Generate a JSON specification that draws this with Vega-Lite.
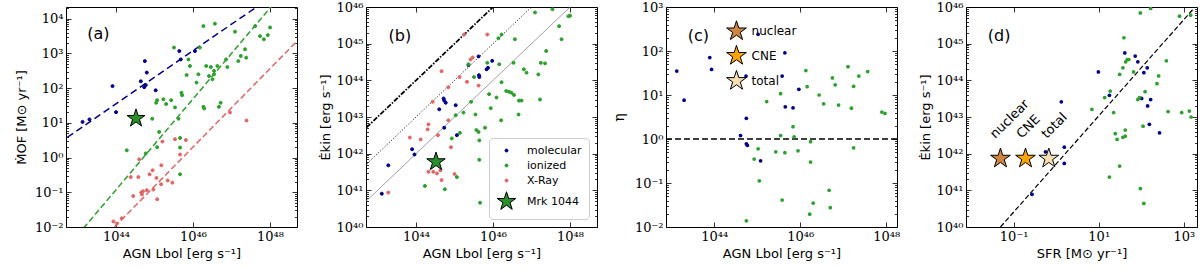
{
"$schema": "https://vega.github.io/schema/vega-lite/v6.json",
"padding": {"left": 14, "top": 0, "right": 0, "bottom": 0},
"background": "white",
"config": {
  "view": {"stroke": "black", "strokeWidth": 1},
  "axis": {"domain": false, "grid": false, "tickColor": "black", "tickWidth": 0.8, "labelColor": "black", "titleColor": "black", "labelFont": "DejaVu Serif", "labelFontSize": 13, "titleFont": "DejaVu Sans", "titleFontSize": 13, "titleFontWeight": "normal", "labelFlush": false, "labelOverlap": false},
  "text": {"font": "DejaVu Sans"}
},
"bounds": "flush",
"spacing": 69,
"resolve": {"scale": {"color": "independent", "fill": "independent", "stroke": "independent", "shape": "independent", "size": "independent"}},
"datasets": {
  "aL1": [{"x": 3.16e42, "y": 2.55}, {"x": 1e48, "y": 40550}],
  "aL2": [{"x": 1e43, "y": 0.0058}, {"x": 2e48, "y": 50900}],
  "aL3": [{"x": 6.3e43, "y": 0.0066}, {"x": 7.9e48, "y": 3800}],
  "aPts": [
    {"x": 1.35e43, "y": 10.7, "cat": "molecular"}, {"x": 2.04e43, "y": 12.6, "cat": "molecular"}, {"x": 8.1e43, "y": 115, "cat": "molecular"}, {"x": 1.0e44, "y": 20.4, "cat": "molecular"}, {"x": 4.4e44, "y": 158, "cat": "molecular"}, {"x": 5.6e44, "y": 603, "cat": "molecular"}, {"x": 6.3e44, "y": 282, "cat": "molecular"}, {"x": 5.4e44, "y": 107, "cat": "molecular"}, {"x": 5.9e44, "y": 123, "cat": "molecular"}, {"x": 1.07e45, "y": 87, "cat": "molecular"}, {"x": 4.4e45, "y": 1175, "cat": "molecular"}, {"x": 4.8e45, "y": 676, "cat": "molecular"}, {"x": 1.12e46, "y": 1175, "cat": "molecular"},
    {"x": 1.9e44, "y": 1.62, "cat": "ionized"}, {"x": 5.9e44, "y": 1.32, "cat": "ionized"}, {"x": 8.7e44, "y": 13.2, "cat": "ionized"}, {"x": 1.1e45, "y": 38, "cat": "ionized"}, {"x": 1.17e45, "y": 45, "cat": "ionized"}, {"x": 1.32e45, "y": 5.5, "cat": "ionized"}, {"x": 1.17e45, "y": 2.0, "cat": "ionized"}, {"x": 1.7e45, "y": 48, "cat": "ionized"}, {"x": 2.0e45, "y": 35, "cat": "ionized"}, {"x": 2.7e45, "y": 45, "cat": "ionized"}, {"x": 3.4e45, "y": 28, "cat": "ionized"}, {"x": 3.2e45, "y": 1480, "cat": "ionized"}, {"x": 4.2e45, "y": 13.2, "cat": "ionized"}, {"x": 4.6e45, "y": 3.7, "cat": "ionized"}, {"x": 4.6e45, "y": 1.95, "cat": "ionized"}, {"x": 4.6e45, "y": 0.33, "cat": "ionized"}, {"x": 5.0e45, "y": 74, "cat": "ionized"}, {"x": 5.2e45, "y": 63, "cat": "ionized"}, {"x": 6.8e45, "y": 240, "cat": "ionized"}, {"x": 7.6e45, "y": 676, "cat": "ionized"}, {"x": 8.3e45, "y": 437, "cat": "ionized"}, {"x": 1.23e46, "y": 145, "cat": "ionized"}, {"x": 1.38e46, "y": 251, "cat": "ionized"}, {"x": 1.5e46, "y": 1480, "cat": "ionized"}, {"x": 1.86e46, "y": 6170, "cat": "ionized"}, {"x": 1.86e46, "y": 29, "cat": "ionized"}, {"x": 1.95e46, "y": 26, "cat": "ionized"}, {"x": 2.2e46, "y": 437, "cat": "ionized"}, {"x": 2.6e46, "y": 224, "cat": "ionized"}, {"x": 2.9e46, "y": 407, "cat": "ionized"}, {"x": 3.2e46, "y": 182, "cat": "ionized"}, {"x": 3.5e46, "y": 316, "cat": "ionized"}, {"x": 3.7e46, "y": 7244, "cat": "ionized"}, {"x": 3.5e46, "y": 251, "cat": "ionized"}, {"x": 4.3e46, "y": 437, "cat": "ionized"}, {"x": 4.7e46, "y": 29, "cat": "ionized"}, {"x": 5.2e46, "y": 38, "cat": "ionized"}, {"x": 7.2e46, "y": 676, "cat": "ionized"}, {"x": 7.8e46, "y": 407, "cat": "ionized"}, {"x": 1.23e47, "y": 4266, "cat": "ionized"}, {"x": 1.5e47, "y": 603, "cat": "ionized"}, {"x": 1.74e47, "y": 851, "cat": "ionized"}, {"x": 2.24e47, "y": 1318, "cat": "ionized"}, {"x": 2.4e47, "y": 759, "cat": "ionized"}, {"x": 4.1e47, "y": 6170, "cat": "ionized"}, {"x": 5.5e47, "y": 3162, "cat": "ionized"}, {"x": 6.9e47, "y": 2570, "cat": "ionized"}, {"x": 8.7e47, "y": 3388, "cat": "ionized"}, {"x": 1.0e48, "y": 5623, "cat": "ionized"},
    {"x": 8.5e43, "y": 0.0145, "cat": "X-Ray"}, {"x": 1.05e44, "y": 0.0126, "cat": "X-Ray"}, {"x": 1.4e44, "y": 0.0178, "cat": "X-Ray"}, {"x": 2.4e44, "y": 0.275, "cat": "X-Ray"}, {"x": 2.8e44, "y": 0.078, "cat": "X-Ray"}, {"x": 3.8e44, "y": 0.275, "cat": "X-Ray"}, {"x": 4.0e44, "y": 0.89, "cat": "X-Ray"}, {"x": 4.5e44, "y": 0.098, "cat": "X-Ray"}, {"x": 4.7e44, "y": 0.087, "cat": "X-Ray"}, {"x": 5.0e44, "y": 0.107, "cat": "X-Ray"}, {"x": 6.3e44, "y": 0.115, "cat": "X-Ray"}, {"x": 7.4e44, "y": 0.33, "cat": "X-Ray"}, {"x": 8.9e44, "y": 0.43, "cat": "X-Ray"}, {"x": 9.3e44, "y": 0.12, "cat": "X-Ray"}, {"x": 1.12e45, "y": 0.26, "cat": "X-Ray"}, {"x": 1.17e45, "y": 0.063, "cat": "X-Ray"}, {"x": 1.48e45, "y": 0.17, "cat": "X-Ray"}, {"x": 1.5e45, "y": 0.6, "cat": "X-Ray"}, {"x": 1.6e45, "y": 2.9, "cat": "X-Ray"}, {"x": 2.2e45, "y": 0.22, "cat": "X-Ray"}, {"x": 2.9e45, "y": 0.19, "cat": "X-Ray"}, {"x": 3.4e45, "y": 3.4, "cat": "X-Ray"}, {"x": 4.6e45, "y": 1.23, "cat": "X-Ray"}, {"x": 6.5e45, "y": 3.2, "cat": "X-Ray"}, {"x": 9.1e46, "y": 20, "cat": "X-Ray"}, {"x": 2.45e47, "y": 11.7, "cat": "X-Ray"},
    {"x": 3.3e44, "y": 13.5, "cat": "Mrk 1044"}
  ],
  "aTxt": [{"x": 3.47e43, "y": 3548, "t": "(a)"}],
  "bL1": [{"x": 1e42, "y": 1e42}, {"x": 1e47, "y": 1e47}],
  "bL2": [{"x": 1e42, "y": 1e41}, {"x": 1e48, "y": 1e47}],
  "bL3": [{"x": 1e42, "y": 1e40}, {"x": 1e49, "y": 1e47}],
  "bPts": [
    {"x": 1.29e43, "y": 8.1e40, "cat": "molecular"}, {"x": 1.9e43, "y": 4.8e41, "cat": "molecular"}, {"x": 7.9e43, "y": 1.32e42, "cat": "molecular"}, {"x": 9.1e43, "y": 9.5e41, "cat": "molecular"}, {"x": 4.0e44, "y": 1.62e43, "cat": "molecular"}, {"x": 5.2e44, "y": 3.2e43, "cat": "molecular"}, {"x": 5.4e44, "y": 2.8e43, "cat": "molecular"}, {"x": 5.9e44, "y": 2.45e43, "cat": "molecular"}, {"x": 5.4e44, "y": 5.1e42, "cat": "molecular"}, {"x": 1.07e45, "y": 2.1e43, "cat": "molecular"}, {"x": 1.15e45, "y": 3.2e42, "cat": "molecular"}, {"x": 2.3e45, "y": 2.6e44, "cat": "molecular"}, {"x": 4.2e45, "y": 4.5e44, "cat": "molecular"}, {"x": 4.3e45, "y": 1.38e44, "cat": "molecular"}, {"x": 4.4e45, "y": 1.23e44, "cat": "molecular"}, {"x": 6.8e45, "y": 2.0e44, "cat": "molecular"}, {"x": 7.4e45, "y": 2.2e44, "cat": "molecular"}, {"x": 9.5e45, "y": 3.4e44, "cat": "molecular"},
    {"x": 1.7e44, "y": 1.32e41, "cat": "ionized"}, {"x": 5.6e44, "y": 1.07e41, "cat": "ionized"}, {"x": 8.5e44, "y": 2.6e42, "cat": "ionized"}, {"x": 1.07e45, "y": 1.12e43, "cat": "ionized"}, {"x": 1.15e45, "y": 2.3e41, "cat": "ionized"}, {"x": 1.38e45, "y": 3.7e42, "cat": "ionized"}, {"x": 1.7e45, "y": 1.32e43, "cat": "ionized"}, {"x": 2.3e45, "y": 2.75e44, "cat": "ionized"}, {"x": 2.7e45, "y": 2.6e43, "cat": "ionized"}, {"x": 3.2e45, "y": 1.23e44, "cat": "ionized"}, {"x": 3.5e45, "y": 1.17e43, "cat": "ionized"}, {"x": 3.7e45, "y": 4.4e42, "cat": "ionized"}, {"x": 4.2e45, "y": 3.9e42, "cat": "ionized"}, {"x": 4.4e45, "y": 2.3e42, "cat": "ionized"}, {"x": 4.4e45, "y": 6.8e41, "cat": "ionized"}, {"x": 4.6e45, "y": 4.6e40, "cat": "ionized"}, {"x": 6.2e45, "y": 5.1e42, "cat": "ionized"}, {"x": 7.1e45, "y": 3.0e44, "cat": "ionized"}, {"x": 7.9e45, "y": 4.2e43, "cat": "ionized"}, {"x": 8.7e45, "y": 1.74e43, "cat": "ionized"}, {"x": 1.23e46, "y": 3.4e43, "cat": "ionized"}, {"x": 1.38e46, "y": 1.41e45, "cat": "ionized"}, {"x": 1.45e46, "y": 2.75e44, "cat": "ionized"}, {"x": 1.62e46, "y": 8.1e42, "cat": "ionized"}, {"x": 1.66e46, "y": 8.9e43, "cat": "ionized"}, {"x": 1.66e46, "y": 1.78e45, "cat": "ionized"}, {"x": 2.2e46, "y": 5.1e43, "cat": "ionized"}, {"x": 2.6e46, "y": 4.9e43, "cat": "ionized"}, {"x": 3.0e46, "y": 4.6e43, "cat": "ionized"}, {"x": 3.4e46, "y": 3.0e44, "cat": "ionized"}, {"x": 3.7e46, "y": 1.32e45, "cat": "ionized"}, {"x": 3.5e46, "y": 4.0e43, "cat": "ionized"}, {"x": 4.6e46, "y": 1.17e43, "cat": "ionized"}, {"x": 4.7e46, "y": 2.8e43, "cat": "ionized"}, {"x": 5.5e46, "y": 2.8e43, "cat": "ionized"}, {"x": 6.3e46, "y": 2.0e44, "cat": "ionized"}, {"x": 7.4e46, "y": 1.62e44, "cat": "ionized"}, {"x": 1.23e47, "y": 7.1e45, "cat": "ionized"}, {"x": 1.5e47, "y": 1.45e44, "cat": "ionized"}, {"x": 1.66e47, "y": 3.0e43, "cat": "ionized"}, {"x": 1.74e47, "y": 3.0e44, "cat": "ionized"}, {"x": 2.24e47, "y": 2.9e44, "cat": "ionized"}, {"x": 2.4e47, "y": 6.3e44, "cat": "ionized"}, {"x": 3.5e47, "y": 8.7e45, "cat": "ionized"}, {"x": 5.2e47, "y": 3.0e45, "cat": "ionized"}, {"x": 6.0e47, "y": 1.32e45, "cat": "ionized"}, {"x": 9.1e47, "y": 5.6e45, "cat": "ionized"}, {"x": 1.0e48, "y": 5.8e45, "cat": "ionized"},
    {"x": 1.9e43, "y": 8.7e40, "cat": "X-Ray"}, {"x": 6.9e43, "y": 2.75e42, "cat": "X-Ray"}, {"x": 1.32e44, "y": 2.45e42, "cat": "X-Ray"}, {"x": 2.0e44, "y": 4.6e42, "cat": "X-Ray"}, {"x": 2.1e44, "y": 6.3e42, "cat": "X-Ray"}, {"x": 2.7e44, "y": 2.6e43, "cat": "X-Ray"}, {"x": 2.1e44, "y": 3.2e41, "cat": "X-Ray"}, {"x": 2.8e44, "y": 3.2e41, "cat": "X-Ray"}, {"x": 3.5e44, "y": 2.9e41, "cat": "X-Ray"}, {"x": 3.7e44, "y": 3.2e42, "cat": "X-Ray"}, {"x": 4.3e44, "y": 3.5e41, "cat": "X-Ray"}, {"x": 4.6e44, "y": 1.9e41, "cat": "X-Ray"}, {"x": 4.6e44, "y": 1.78e44, "cat": "X-Ray"}, {"x": 6.9e44, "y": 8.1e42, "cat": "X-Ray"}, {"x": 6.9e44, "y": 6.5e43, "cat": "X-Ray"}, {"x": 8.1e44, "y": 1.5e42, "cat": "X-Ray"}, {"x": 1.0e45, "y": 2.8e41, "cat": "X-Ray"}, {"x": 1.35e45, "y": 1.23e44, "cat": "X-Ray"}, {"x": 1.78e45, "y": 1.78e45, "cat": "X-Ray"}, {"x": 2.1e45, "y": 9.1e43, "cat": "X-Ray"}, {"x": 2.6e45, "y": 3.7e44, "cat": "X-Ray"}, {"x": 2.95e45, "y": 4.2e44, "cat": "X-Ray"}, {"x": 4.2e45, "y": 7.2e43, "cat": "X-Ray"}, {"x": 7.1e45, "y": 1.78e45, "cat": "X-Ray"},
    {"x": 3.3e44, "y": 6.0e41, "cat": "Mrk 1044"}
  ],
  "bTxt": [{"x": 3.8e43, "y": 1.62e45, "t": "(b)"}],
  "cRule": [{"eta": 1}],
  "cPts": [
    {"x": 1.35e43, "y": 35, "cat": "molecular"}, {"x": 2.0e43, "y": 7.6, "cat": "molecular"}, {"x": 7.9e43, "y": 71, "cat": "molecular"}, {"x": 8.7e43, "y": 38, "cat": "molecular"}, {"x": 4.1e44, "y": 1.2, "cat": "molecular"}, {"x": 5.5e44, "y": 27, "cat": "molecular"}, {"x": 5.6e44, "y": 2.95, "cat": "molecular"}, {"x": 5.6e44, "y": 0.78, "cat": "molecular"}, {"x": 5.9e44, "y": 0.72, "cat": "molecular"}, {"x": 1.05e45, "y": 240, "cat": "molecular"}, {"x": 1.2e45, "y": 0.32, "cat": "molecular"}, {"x": 3.8e45, "y": 27, "cat": "molecular"}, {"x": 4.4e45, "y": 91, "cat": "molecular"}, {"x": 4.5e45, "y": 5.4, "cat": "molecular"}, {"x": 6.8e45, "y": 5.1, "cat": "molecular"}, {"x": 9.3e45, "y": 13.5, "cat": "molecular"},
    {"x": 5.6e44, "y": 0.0138, "cat": "ionized"}, {"x": 8.5e44, "y": 0.35, "cat": "ionized"}, {"x": 1.05e45, "y": 0.6, "cat": "ionized"}, {"x": 1.12e45, "y": 0.112, "cat": "ionized"}, {"x": 1.66e45, "y": 7.1, "cat": "ionized"}, {"x": 2.7e45, "y": 0.51, "cat": "ionized"}, {"x": 3.5e45, "y": 10.7, "cat": "ionized"}, {"x": 3.5e45, "y": 1.2, "cat": "ionized"}, {"x": 3.8e45, "y": 0.041, "cat": "ionized"}, {"x": 4.4e45, "y": 0.49, "cat": "ionized"}, {"x": 6.8e45, "y": 1.9, "cat": "ionized"}, {"x": 7.2e45, "y": 1.12, "cat": "ionized"}, {"x": 8.9e45, "y": 0.54, "cat": "ionized"}, {"x": 1.35e46, "y": 36, "cat": "ionized"}, {"x": 1.45e46, "y": 15.5, "cat": "ionized"}, {"x": 1.66e46, "y": 0.0195, "cat": "ionized"}, {"x": 1.74e46, "y": 0.87, "cat": "ionized"}, {"x": 1.74e46, "y": 0.3, "cat": "ionized"}, {"x": 2.0e46, "y": 0.035, "cat": "ionized"}, {"x": 2.75e46, "y": 10, "cat": "ionized"}, {"x": 3.5e46, "y": 6.3, "cat": "ionized"}, {"x": 4.7e46, "y": 0.068, "cat": "ionized"}, {"x": 5.0e46, "y": 0.0275, "cat": "ionized"}, {"x": 5.6e46, "y": 24.5, "cat": "ionized"}, {"x": 6.5e46, "y": 17, "cat": "ionized"}, {"x": 7.8e46, "y": 5.9, "cat": "ionized"}, {"x": 1.29e47, "y": 44, "cat": "ionized"}, {"x": 1.55e47, "y": 5.0, "cat": "ionized"}, {"x": 1.74e47, "y": 15.8, "cat": "ionized"}, {"x": 1.74e47, "y": 0.63, "cat": "ionized"}, {"x": 2.3e47, "y": 27, "cat": "ionized"}, {"x": 3.7e47, "y": 34, "cat": "ionized"}, {"x": 7.9e47, "y": 4.1, "cat": "ionized"}, {"x": 9.3e47, "y": 3.8, "cat": "ionized"}
  ],
  "cStars": [{"x": 3.3e44, "y": 282, "cat": "nuclear"}, {"x": 3.3e44, "y": 78, "cat": "CNE"}, {"x": 3.3e44, "y": 21, "cat": "total"}],
  "cLab": [{"x": 7.4e44, "y": 282, "t": "nuclear"}, {"x": 7.4e44, "y": 78, "t": "CNE"}, {"x": 7.4e44, "y": 21, "t": "total"}],
  "cTxt": [{"x": 4.27e43, "y": 219, "t": "(c)"}],
  "dL1": [{"x": 0.049, "y": 1e40}, {"x": 2042, "y": 1.15e46}],
  "dPts": [
    {"x": 0.27, "y": 7.8e40, "cat": "molecular"}, {"x": 0.56, "y": 1.12e42, "cat": "molecular"}, {"x": 1.32, "y": 2.6e43, "cat": "molecular"}, {"x": 1.55, "y": 1.5e42, "cat": "molecular"}, {"x": 1.55, "y": 5.4e41, "cat": "molecular"}, {"x": 9.8, "y": 1.7e44, "cat": "molecular"}, {"x": 17.8, "y": 3.9e43, "cat": "molecular"}, {"x": 41, "y": 5.6e44, "cat": "molecular"}, {"x": 72, "y": 4.6e44, "cat": "molecular"}, {"x": 83, "y": 3.2e44, "cat": "molecular"}, {"x": 102, "y": 3.2e43, "cat": "molecular"}, {"x": 115, "y": 1.62e44, "cat": "molecular"}, {"x": 138, "y": 2.2e44, "cat": "molecular"}, {"x": 141, "y": 2.0e43, "cat": "molecular"}, {"x": 155, "y": 6.3e42, "cat": "molecular"}, {"x": 166, "y": 3.0e43, "cat": "molecular"}, {"x": 269, "y": 3.7e42, "cat": "molecular"},
    {"x": 6.9, "y": 1.62e43, "cat": "ionized"}, {"x": 13.8, "y": 3.4e43, "cat": "ionized"}, {"x": 17.8, "y": 2.3e41, "cat": "ionized"}, {"x": 18.6, "y": 5.1e43, "cat": "ionized"}, {"x": 22.4, "y": 1.32e43, "cat": "ionized"}, {"x": 24.5, "y": 3.5e42, "cat": "ionized"}, {"x": 27, "y": 2.45e42, "cat": "ionized"}, {"x": 31, "y": 1.45e44, "cat": "ionized"}, {"x": 31, "y": 4.6e41, "cat": "ionized"}, {"x": 37, "y": 2.2e44, "cat": "ionized"}, {"x": 37, "y": 2.8e42, "cat": "ionized"}, {"x": 39, "y": 1.45e45, "cat": "ionized"}, {"x": 42, "y": 4.4e42, "cat": "ionized"}, {"x": 42, "y": 3.0e42, "cat": "ionized"}, {"x": 43, "y": 3.2e44, "cat": "ionized"}, {"x": 47, "y": 3.7e44, "cat": "ionized"}, {"x": 51, "y": 3.7e44, "cat": "ionized"}, {"x": 66, "y": 1.7e44, "cat": "ionized"}, {"x": 83, "y": 3.0e43, "cat": "ionized"}, {"x": 91, "y": 3.4e43, "cat": "ionized"}, {"x": 95, "y": 6.9e45, "cat": "ionized"}, {"x": 95, "y": 1.12e41, "cat": "ionized"}, {"x": 110, "y": 5.6e42, "cat": "ionized"}, {"x": 115, "y": 4.4e40, "cat": "ionized"}, {"x": 123, "y": 4.9e43, "cat": "ionized"}, {"x": 166, "y": 9.1e45, "cat": "ionized"}, {"x": 257, "y": 1.32e44, "cat": "ionized"}, {"x": 234, "y": 8.1e43, "cat": "ionized"}, {"x": 389, "y": 3.4e44, "cat": "ionized"}, {"x": 427, "y": 1.41e43, "cat": "ionized"}, {"x": 794, "y": 5.6e45, "cat": "ionized"}, {"x": 891, "y": 1.32e43, "cat": "ionized"}, {"x": 1349, "y": 1.45e43, "cat": "ionized"}, {"x": 1445, "y": 6.0e45, "cat": "ionized"}, {"x": 1479, "y": 1.0e43, "cat": "ionized"}
  ],
  "dStars": [{"x": 0.049, "y": 7.4e41, "cat": "nuclear"}, {"x": 0.19, "y": 7.4e41, "cat": "CNE"}, {"x": 0.67, "y": 7.4e41, "cat": "total"}],
  "dLab": [{"x": 0.037, "y": 2.5e42, "t": "nuclear"}, {"x": 0.155, "y": 2.5e42, "t": "CNE"}, {"x": 0.6, "y": 2.5e42, "t": "total"}],
  "dTxt": [{"x": 0.0457, "y": 1.62e45, "t": "(d)"}]
},
"hconcat": [
  {
    "width": 231, "height": 220,
    "resolve": {"axis": {"x": "independent", "y": "independent"}},
    "layer": [
      {"data": {"name": "aL1"}, "mark": {"type": "line", "clip": true, "color": "#00008b", "strokeWidth": 1.5, "strokeDash": [7, 4]},
       "encoding": {
         "x": {"field": "x", "type": "quantitative", "scale": {"type": "log", "domain": [5.012e42, 5.012e48], "nice": false},
               "axis": {"orient": "bottom", "values": [1e44, 1e46, 1e48], "labelExpr": "'10' + (datum.value < 1 ? '⁻' : '') + (abs(round(log(datum.value)/LN10)) >= 10 ? substring('⁰¹²³⁴⁵⁶⁷⁸⁹', floor(abs(round(log(datum.value)/LN10))/10), floor(abs(round(log(datum.value)/LN10))/10)+1) : '') + substring('⁰¹²³⁴⁵⁶⁷⁸⁹', abs(round(log(datum.value)/LN10))%10, abs(round(log(datum.value)/LN10))%10+1)", "tickSize": -5, "labelPadding": 8, "title": "AGN Lbol [erg s⁻¹]", "titlePadding": 4}},
         "y": {"field": "y", "type": "quantitative", "scale": {"type": "log", "domain": [0.01, 21878], "nice": false},
               "axis": {"orient": "left", "values": [0.01, 0.1, 1, 10, 100, 1000, 10000], "labelExpr": "'10' + (datum.value < 1 ? '⁻' : '') + (abs(round(log(datum.value)/LN10)) >= 10 ? substring('⁰¹²³⁴⁵⁶⁷⁸⁹', floor(abs(round(log(datum.value)/LN10))/10), floor(abs(round(log(datum.value)/LN10))/10)+1) : '') + substring('⁰¹²³⁴⁵⁶⁷⁸⁹', abs(round(log(datum.value)/LN10))%10, abs(round(log(datum.value)/LN10))%10+1)", "tickSize": -5, "labelPadding": 8, "title": "ṀOF [M⊙ yr⁻¹]", "titlePadding": 6}}
       }},
      {"data": {"name": "aL2"}, "mark": {"type": "line", "clip": true, "color": "#2ca02c", "strokeWidth": 1.5, "strokeDash": [6, 3]},
       "encoding": {
         "x": {"field": "x", "type": "quantitative", "scale": {"type": "log", "domain": [5.012e42, 5.012e48], "nice": false}, "axis": {"orient": "top", "values": [1e44, 1e46, 1e48], "labels": false, "tickSize": -5, "title": null}},
         "y": {"field": "y", "type": "quantitative", "scale": {"type": "log", "domain": [0.01, 21878], "nice": false}, "axis": {"orient": "right", "values": [0.01, 0.1, 1, 10, 100, 1000, 10000], "labels": false, "tickSize": -5, "title": null}}
       }},
      {"data": {"name": "aL3"}, "mark": {"type": "line", "clip": true, "color": "#e06666", "strokeWidth": 1.5, "strokeDash": [6, 3]},
       "encoding": {
         "x": {"field": "x", "type": "quantitative", "scale": {"type": "log", "domain": [5.012e42, 5.012e48], "nice": false}, "axis": null},
         "y": {"field": "y", "type": "quantitative", "scale": {"type": "log", "domain": [0.01, 21878], "nice": false}, "axis": {"orient": "left", "values": [0.02,0.03,0.04,0.05,0.06,0.07,0.08,0.09,0.2,0.3,0.4,0.5,0.6,0.7,0.8,0.9,2,3,4,5,6,7,8,9,20,30,40,50,60,70,80,90,200,300,400,500,600,700,800,900,2000,3000,4000,5000,6000,7000,8000,9000,20000], "labels": false, "tickSize": -2.5, "title": null}}
       }},
      {"data": {"name": "aPts"}, "mark": {"type": "point", "filled": true, "opacity": 1, "strokeWidth": 1},
       "encoding": {
         "x": {"field": "x", "type": "quantitative", "scale": {"type": "log", "domain": [5.012e42, 5.012e48], "nice": false}, "axis": null},
         "y": {"field": "y", "type": "quantitative", "scale": {"type": "log", "domain": [0.01, 21878], "nice": false}, "axis": {"orient": "right", "values": [0.02,0.03,0.04,0.05,0.06,0.07,0.08,0.09,0.2,0.3,0.4,0.5,0.6,0.7,0.8,0.9,2,3,4,5,6,7,8,9,20,30,40,50,60,70,80,90,200,300,400,500,600,700,800,900,2000,3000,4000,5000,6000,7000,8000,9000,20000], "labels": false, "tickSize": -2.5, "title": null}},
         "fill": {"field": "cat", "type": "nominal", "scale": {"domain": ["molecular", "ionized", "X-Ray", "Mrk 1044"], "range": ["#00008b", "#2ca02c", "#e06666", "#2a8f2a"]}, "legend": null},
         "stroke": {"field": "cat", "type": "nominal", "scale": {"domain": ["molecular", "ionized", "X-Ray", "Mrk 1044"], "range": ["#00008b", "#2ca02c", "#e06666", "#000000"]}, "legend": null},
         "shape": {"field": "cat", "type": "nominal", "scale": {"domain": ["molecular", "ionized", "X-Ray", "Mrk 1044"], "range": ["circle", "circle", "circle", "M0,-1L0.2245,-0.309L0.9511,-0.309L0.3633,0.118L0.5878,0.809L0,0.382L-0.5878,0.809L-0.3633,0.118L-0.9511,-0.309L-0.2245,-0.309Z"]}, "legend": null},
         "size": {"field": "cat", "type": "nominal", "scale": {"type": "ordinal", "domain": ["molecular", "ionized", "X-Ray", "Mrk 1044"], "range": [9, 9, 9, 360]}, "legend": null}
       }},
      {"data": {"name": "aTxt"}, "mark": {"type": "text", "fontSize": 16, "font": "DejaVu Sans", "color": "black"},
       "encoding": {
         "x": {"field": "x", "type": "quantitative", "scale": {"type": "log", "domain": [5.012e42, 5.012e48], "nice": false}, "axis": null},
         "y": {"field": "y", "type": "quantitative", "scale": {"type": "log", "domain": [0.01, 21878], "nice": false}, "axis": null},
         "text": {"field": "t"}
       }}
    ]
  },
  {
    "width": 231, "height": 220,
    "resolve": {"axis": {"x": "independent", "y": "independent"}},
    "layer": [
      {"data": {"name": "bL1"}, "mark": {"type": "line", "clip": true, "color": "black", "strokeWidth": 1.8, "strokeDash": [5, 1.5, 1.5, 1.5]},
       "encoding": {
         "x": {"field": "x", "type": "quantitative", "scale": {"type": "log", "domain": [5.012e42, 5.012e48], "nice": false},
               "axis": {"orient": "bottom", "values": [1e44, 1e46, 1e48], "labelExpr": "'10' + (datum.value < 1 ? '⁻' : '') + (abs(round(log(datum.value)/LN10)) >= 10 ? substring('⁰¹²³⁴⁵⁶⁷⁸⁹', floor(abs(round(log(datum.value)/LN10))/10), floor(abs(round(log(datum.value)/LN10))/10)+1) : '') + substring('⁰¹²³⁴⁵⁶⁷⁸⁹', abs(round(log(datum.value)/LN10))%10, abs(round(log(datum.value)/LN10))%10+1)", "tickSize": -5, "labelPadding": 8, "title": "AGN Lbol [erg s⁻¹]", "titlePadding": 4}},
         "y": {"field": "y", "type": "quantitative", "scale": {"type": "log", "domain": [1e40, 1e46], "nice": false},
               "axis": {"orient": "left", "values": [1e40, 1e41, 1e42, 1e43, 1e44, 1e45, 1e46], "labelExpr": "'10' + (datum.value < 1 ? '⁻' : '') + (abs(round(log(datum.value)/LN10)) >= 10 ? substring('⁰¹²³⁴⁵⁶⁷⁸⁹', floor(abs(round(log(datum.value)/LN10))/10), floor(abs(round(log(datum.value)/LN10))/10)+1) : '') + substring('⁰¹²³⁴⁵⁶⁷⁸⁹', abs(round(log(datum.value)/LN10))%10, abs(round(log(datum.value)/LN10))%10+1)", "tickSize": -5, "labelPadding": 8, "title": "Ėkin [erg s⁻¹]", "titlePadding": 4}}
       }},
      {"data": {"name": "bL2"}, "mark": {"type": "line", "clip": true, "color": "black", "strokeWidth": 1, "strokeDash": [1, 2]},
       "encoding": {
         "x": {"field": "x", "type": "quantitative", "scale": {"type": "log", "domain": [5.012e42, 5.012e48], "nice": false}, "axis": {"orient": "top", "values": [1e44, 1e46, 1e48], "labels": false, "tickSize": -5, "title": null}},
         "y": {"field": "y", "type": "quantitative", "scale": {"type": "log", "domain": [1e40, 1e46], "nice": false}, "axis": {"orient": "right", "values": [1e40, 1e41, 1e42, 1e43, 1e44, 1e45, 1e46], "labels": false, "tickSize": -5, "title": null}}
       }},
      {"data": {"name": "bL3"}, "mark": {"type": "line", "clip": true, "color": "#888888", "strokeWidth": 0.8},
       "encoding": {
         "x": {"field": "x", "type": "quantitative", "scale": {"type": "log", "domain": [5.012e42, 5.012e48], "nice": false}, "axis": null},
         "y": {"field": "y", "type": "quantitative", "scale": {"type": "log", "domain": [1e40, 1e46], "nice": false}, "axis": {"orient": "left", "values": [2e40,3e40,4e40,5e40,6e40,7e40,8e40,9e40,2e41,3e41,4e41,5e41,6e41,7e41,8e41,9e41,2e42,3e42,4e42,5e42,6e42,7e42,8e42,9e42,2e43,3e43,4e43,5e43,6e43,7e43,8e43,9e43,2e44,3e44,4e44,5e44,6e44,7e44,8e44,9e44,2e45,3e45,4e45,5e45,6e45,7e45,8e45,9e45], "labels": false, "tickSize": -2.5, "title": null}}
       }},
      {"data": {"name": "bPts"}, "mark": {"type": "point", "filled": true, "opacity": 1, "strokeWidth": 1},
       "encoding": {
         "x": {"field": "x", "type": "quantitative", "scale": {"type": "log", "domain": [5.012e42, 5.012e48], "nice": false}, "axis": null},
         "y": {"field": "y", "type": "quantitative", "scale": {"type": "log", "domain": [1e40, 1e46], "nice": false}, "axis": {"orient": "right", "values": [2e40,3e40,4e40,5e40,6e40,7e40,8e40,9e40,2e41,3e41,4e41,5e41,6e41,7e41,8e41,9e41,2e42,3e42,4e42,5e42,6e42,7e42,8e42,9e42,2e43,3e43,4e43,5e43,6e43,7e43,8e43,9e43,2e44,3e44,4e44,5e44,6e44,7e44,8e44,9e44,2e45,3e45,4e45,5e45,6e45,7e45,8e45,9e45], "labels": false, "tickSize": -2.5, "title": null}},
         "fill": {"field": "cat", "type": "nominal", "scale": {"domain": ["molecular", "ionized", "X-Ray", "Mrk 1044"], "range": ["#00008b", "#2ca02c", "#e06666", "#2a8f2a"]},
                  "legend": {"orient": "bottom-right", "title": null, "offset": 8, "padding": 7, "fillColor": "white", "strokeColor": "#cccccc", "cornerRadius": 4, "labelFont": "DejaVu Sans", "labelFontSize": 11, "labelColor": "black", "labelOffset": 10, "rowPadding": 3, "symbolStrokeWidth": 1}},
         "stroke": {"field": "cat", "type": "nominal", "scale": {"domain": ["molecular", "ionized", "X-Ray", "Mrk 1044"], "range": ["#00008b", "#2ca02c", "#e06666", "#000000"]}},
         "shape": {"field": "cat", "type": "nominal", "scale": {"domain": ["molecular", "ionized", "X-Ray", "Mrk 1044"], "range": ["circle", "circle", "circle", "M0,-1L0.2245,-0.309L0.9511,-0.309L0.3633,0.118L0.5878,0.809L0,0.382L-0.5878,0.809L-0.3633,0.118L-0.9511,-0.309L-0.2245,-0.309Z"]}},
         "size": {"field": "cat", "type": "nominal", "scale": {"type": "ordinal", "domain": ["molecular", "ionized", "X-Ray", "Mrk 1044"], "range": [9, 9, 9, 380]}}
       }},
      {"data": {"name": "bTxt"}, "mark": {"type": "text", "fontSize": 16, "font": "DejaVu Sans", "color": "black"},
       "encoding": {
         "x": {"field": "x", "type": "quantitative", "scale": {"type": "log", "domain": [5.012e42, 5.012e48], "nice": false}, "axis": null},
         "y": {"field": "y", "type": "quantitative", "scale": {"type": "log", "domain": [1e40, 1e46], "nice": false}, "axis": null},
         "text": {"field": "t"}
       }}
    ]
  },
  {
    "width": 231, "height": 220,
    "resolve": {"axis": {"x": "independent", "y": "independent"}},
    "layer": [
      {"data": {"name": "cRule"}, "mark": {"type": "rule", "color": "black", "strokeWidth": 1.5, "strokeDash": [6, 3]},
       "encoding": {
         "y": {"field": "eta", "type": "quantitative", "scale": {"type": "log", "domain": [0.01, 1000], "nice": false},
               "axis": {"orient": "left", "values": [0.01, 0.1, 1, 10, 100, 1000], "labelExpr": "'10' + (datum.value < 1 ? '⁻' : '') + (abs(round(log(datum.value)/LN10)) >= 10 ? substring('⁰¹²³⁴⁵⁶⁷⁸⁹', floor(abs(round(log(datum.value)/LN10))/10), floor(abs(round(log(datum.value)/LN10))/10)+1) : '') + substring('⁰¹²³⁴⁵⁶⁷⁸⁹', abs(round(log(datum.value)/LN10))%10, abs(round(log(datum.value)/LN10))%10+1)", "tickSize": -5, "labelPadding": 8, "title": "η", "titlePadding": 8, "titleFont": "DejaVu Serif", "titleFontSize": 14}}
       }},
      {"data": {"name": "cPts"}, "mark": {"type": "point", "filled": true, "opacity": 1, "size": 14, "strokeWidth": 0},
       "encoding": {
         "x": {"field": "x", "type": "quantitative", "scale": {"type": "log", "domain": [7.586e42, 1.778e48], "nice": false},
               "axis": {"orient": "bottom", "values": [1e44, 1e46, 1e48], "labelExpr": "'10' + (datum.value < 1 ? '⁻' : '') + (abs(round(log(datum.value)/LN10)) >= 10 ? substring('⁰¹²³⁴⁵⁶⁷⁸⁹', floor(abs(round(log(datum.value)/LN10))/10), floor(abs(round(log(datum.value)/LN10))/10)+1) : '') + substring('⁰¹²³⁴⁵⁶⁷⁸⁹', abs(round(log(datum.value)/LN10))%10, abs(round(log(datum.value)/LN10))%10+1)", "tickSize": -5, "labelPadding": 8, "title": "AGN Lbol [erg s⁻¹]", "titlePadding": 4}},
         "y": {"field": "y", "type": "quantitative", "scale": {"type": "log", "domain": [0.01, 1000], "nice": false}, "axis": {"orient": "right", "values": [0.01, 0.1, 1, 10, 100, 1000], "labels": false, "tickSize": -5, "title": null}},
         "color": {"field": "cat", "type": "nominal", "scale": {"domain": ["molecular", "ionized"], "range": ["#00008b", "#2ca02c"]}, "legend": null}
       }},
      {"data": {"name": "cStars"}, "mark": {"type": "point", "filled": true, "opacity": 1, "size": 430, "stroke": "black", "strokeWidth": 1, "shape": "M0,-1L0.2245,-0.309L0.9511,-0.309L0.3633,0.118L0.5878,0.809L0,0.382L-0.5878,0.809L-0.3633,0.118L-0.9511,-0.309L-0.2245,-0.309Z"},
       "encoding": {
         "x": {"field": "x", "type": "quantitative", "scale": {"type": "log", "domain": [7.586e42, 1.778e48], "nice": false}, "axis": {"orient": "top", "values": [1e44, 1e46, 1e48], "labels": false, "tickSize": -5, "title": null}},
         "y": {"field": "y", "type": "quantitative", "scale": {"type": "log", "domain": [0.01, 1000], "nice": false}, "axis": {"orient": "left", "values": [0.02,0.03,0.04,0.05,0.06,0.07,0.08,0.09,0.2,0.3,0.4,0.5,0.6,0.7,0.8,0.9,2,3,4,5,6,7,8,9,20,30,40,50,60,70,80,90,200,300,400,500,600,700,800,900], "labels": false, "tickSize": -2.5, "title": null}},
         "fill": {"field": "cat", "type": "nominal", "scale": {"domain": ["nuclear", "CNE", "total"], "range": ["#cd853f", "#ffa500", "#f5deb3"]}, "legend": null}
       }},
      {"data": {"name": "cLab"}, "mark": {"type": "text", "fontSize": 12, "font": "DejaVu Sans", "color": "black", "align": "left", "baseline": "middle"},
       "encoding": {
         "x": {"field": "x", "type": "quantitative", "scale": {"type": "log", "domain": [7.586e42, 1.778e48], "nice": false}, "axis": null},
         "y": {"field": "y", "type": "quantitative", "scale": {"type": "log", "domain": [0.01, 1000], "nice": false}, "axis": {"orient": "right", "values": [0.02,0.03,0.04,0.05,0.06,0.07,0.08,0.09,0.2,0.3,0.4,0.5,0.6,0.7,0.8,0.9,2,3,4,5,6,7,8,9,20,30,40,50,60,70,80,90,200,300,400,500,600,700,800,900], "labels": false, "tickSize": -2.5, "title": null}},
         "text": {"field": "t"}
       }},
      {"data": {"name": "cTxt"}, "mark": {"type": "text", "fontSize": 16, "font": "DejaVu Sans", "color": "black"},
       "encoding": {
         "x": {"field": "x", "type": "quantitative", "scale": {"type": "log", "domain": [7.586e42, 1.778e48], "nice": false}, "axis": null},
         "y": {"field": "y", "type": "quantitative", "scale": {"type": "log", "domain": [0.01, 1000], "nice": false}, "axis": null},
         "text": {"field": "t"}
       }}
    ]
  },
  {
    "width": 231, "height": 220,
    "resolve": {"axis": {"x": "independent", "y": "independent"}},
    "layer": [
      {"data": {"name": "dL1"}, "mark": {"type": "line", "clip": true, "color": "black", "strokeWidth": 1.2, "strokeDash": [5, 2.5]},
       "encoding": {
         "x": {"field": "x", "type": "quantitative", "scale": {"type": "log", "domain": [0.007586, 2042], "nice": false},
               "axis": {"orient": "bottom", "values": [0.1, 10, 1000], "labelExpr": "'10' + (datum.value < 1 ? '⁻' : '') + (abs(round(log(datum.value)/LN10)) >= 10 ? substring('⁰¹²³⁴⁵⁶⁷⁸⁹', floor(abs(round(log(datum.value)/LN10))/10), floor(abs(round(log(datum.value)/LN10))/10)+1) : '') + substring('⁰¹²³⁴⁵⁶⁷⁸⁹', abs(round(log(datum.value)/LN10))%10, abs(round(log(datum.value)/LN10))%10+1)", "tickSize": -5, "labelPadding": 8, "title": "SFR [M⊙ yr⁻¹]", "titlePadding": 4}},
         "y": {"field": "y", "type": "quantitative", "scale": {"type": "log", "domain": [1e40, 1e46], "nice": false},
               "axis": {"orient": "left", "values": [1e40, 1e41, 1e42, 1e43, 1e44, 1e45, 1e46], "labelExpr": "'10' + (datum.value < 1 ? '⁻' : '') + (abs(round(log(datum.value)/LN10)) >= 10 ? substring('⁰¹²³⁴⁵⁶⁷⁸⁹', floor(abs(round(log(datum.value)/LN10))/10), floor(abs(round(log(datum.value)/LN10))/10)+1) : '') + substring('⁰¹²³⁴⁵⁶⁷⁸⁹', abs(round(log(datum.value)/LN10))%10, abs(round(log(datum.value)/LN10))%10+1)", "tickSize": -5, "labelPadding": 8, "title": "Ėkin [erg s⁻¹]", "titlePadding": 4}}
       }},
      {"data": {"name": "dPts"}, "mark": {"type": "point", "filled": true, "opacity": 1, "size": 14, "strokeWidth": 0},
       "encoding": {
         "x": {"field": "x", "type": "quantitative", "scale": {"type": "log", "domain": [0.007586, 2042], "nice": false}, "axis": {"orient": "top", "values": [0.1, 10, 1000], "labels": false, "tickSize": -5, "title": null}},
         "y": {"field": "y", "type": "quantitative", "scale": {"type": "log", "domain": [1e40, 1e46], "nice": false}, "axis": {"orient": "right", "values": [1e40, 1e41, 1e42, 1e43, 1e44, 1e45, 1e46], "labels": false, "tickSize": -5, "title": null}},
         "color": {"field": "cat", "type": "nominal", "scale": {"domain": ["molecular", "ionized"], "range": ["#00008b", "#2ca02c"]}, "legend": null}
       }},
      {"data": {"name": "dStars"}, "mark": {"type": "point", "filled": true, "opacity": 1, "size": 430, "stroke": "black", "strokeWidth": 1, "shape": "M0,-1L0.2245,-0.309L0.9511,-0.309L0.3633,0.118L0.5878,0.809L0,0.382L-0.5878,0.809L-0.3633,0.118L-0.9511,-0.309L-0.2245,-0.309Z"},
       "encoding": {
         "x": {"field": "x", "type": "quantitative", "scale": {"type": "log", "domain": [0.007586, 2042], "nice": false}, "axis": null},
         "y": {"field": "y", "type": "quantitative", "scale": {"type": "log", "domain": [1e40, 1e46], "nice": false}, "axis": {"orient": "left", "values": [2e40,3e40,4e40,5e40,6e40,7e40,8e40,9e40,2e41,3e41,4e41,5e41,6e41,7e41,8e41,9e41,2e42,3e42,4e42,5e42,6e42,7e42,8e42,9e42,2e43,3e43,4e43,5e43,6e43,7e43,8e43,9e43,2e44,3e44,4e44,5e44,6e44,7e44,8e44,9e44,2e45,3e45,4e45,5e45,6e45,7e45,8e45,9e45], "labels": false, "tickSize": -2.5, "title": null}},
         "fill": {"field": "cat", "type": "nominal", "scale": {"domain": ["nuclear", "CNE", "total"], "range": ["#cd853f", "#ffa500", "#f5deb3"]}, "legend": null}
       }},
      {"data": {"name": "dLab"}, "mark": {"type": "text", "fontSize": 13, "font": "DejaVu Sans", "color": "black", "align": "left", "baseline": "alphabetic", "angle": -45},
       "encoding": {
         "x": {"field": "x", "type": "quantitative", "scale": {"type": "log", "domain": [0.007586, 2042], "nice": false}, "axis": null},
         "y": {"field": "y", "type": "quantitative", "scale": {"type": "log", "domain": [1e40, 1e46], "nice": false}, "axis": {"orient": "right", "values": [2e40,3e40,4e40,5e40,6e40,7e40,8e40,9e40,2e41,3e41,4e41,5e41,6e41,7e41,8e41,9e41,2e42,3e42,4e42,5e42,6e42,7e42,8e42,9e42,2e43,3e43,4e43,5e43,6e43,7e43,8e43,9e43,2e44,3e44,4e44,5e44,6e44,7e44,8e44,9e44,2e45,3e45,4e45,5e45,6e45,7e45,8e45,9e45], "labels": false, "tickSize": -2.5, "title": null}},
         "text": {"field": "t"}
       }},
      {"data": {"name": "dTxt"}, "mark": {"type": "text", "fontSize": 16, "font": "DejaVu Sans", "color": "black"},
       "encoding": {
         "x": {"field": "x", "type": "quantitative", "scale": {"type": "log", "domain": [0.007586, 2042], "nice": false}, "axis": null},
         "y": {"field": "y", "type": "quantitative", "scale": {"type": "log", "domain": [1e40, 1e46], "nice": false}, "axis": null},
         "text": {"field": "t"}
       }}
    ]
  }
]
}
